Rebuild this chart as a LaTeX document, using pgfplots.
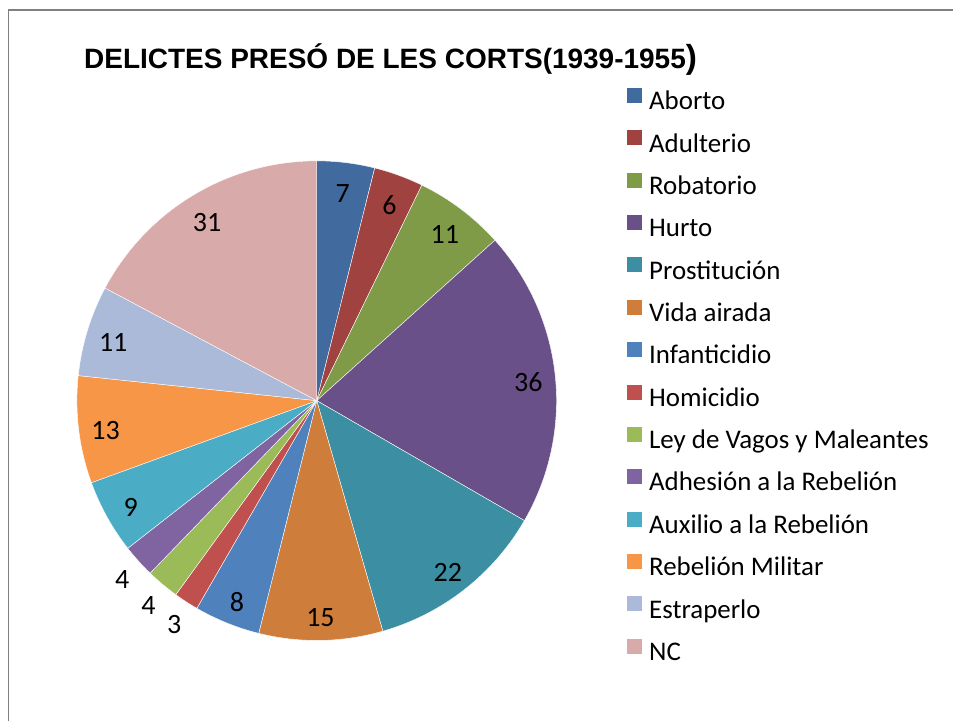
\documentclass[border=0pt]{standalone}
\usepackage{pgfplots}
\pgfplotsset{compat=1.18}
\usepackage{pgfplotstable}
\usepackage{fontspec}
\setmainfont{Carlito}
\newfontfamily\titlefont{Liberation Sans}

\definecolor{cA}{HTML}{416B9F}
\definecolor{cB}{HTML}{A04240}
\definecolor{cC}{HTML}{7F9B48}
\definecolor{cD}{HTML}{6A5088}
\definecolor{cE}{HTML}{3C8FA3}
\definecolor{cF}{HTML}{CE7D3A}
\definecolor{cG}{HTML}{4F81BD}
\definecolor{cH}{HTML}{C0504D}
\definecolor{cI}{HTML}{9BBB59}
\definecolor{cJ}{HTML}{8064A2}
\definecolor{cK}{HTML}{4BACC6}
\definecolor{cL}{HTML}{F79646}
\definecolor{cM}{HTML}{AABAD8}
\definecolor{cN}{HTML}{D9AAAA}

\def\lblfont{\fontsize{21}{25}\selectfont}
\def\legfont{\fontsize{20.2}{24}\selectfont}

% value, colour, label distance from centre (px)
\pgfplotstableread[col sep=comma]{
name,value,col,lr
Aborto,7,cA,213
Adulterio,6,cB,213
Robatorio,11,cC,213
Hurto,36,cD,213
Prostitución,22,cE,213
Vida airada,15,cF,213
Infanticidio,8,cG,213
Homicidio,3,cH,262
Ley de Vagos y Maleantes,4,cI,262
Adhesión a la Rebelión,4,cJ,262
Auxilio a la Rebelión,9,cK,213
Rebelión Militar,13,cL,213
Estraperlo,11,cM,213
NC,31,cN,213
}\pietable

\begin{document}
\begin{tikzpicture}
\begin{axis}[
  scale only axis,
  width=715.5pt, height=541.5pt,
  xmin=0, xmax=954, ymin=0, ymax=722,
  hide axis, clip=false,
  legend cell align=left,
  legend image code/.code={\fill[#1, draw=none] (0pt,0pt) rectangle (11.25pt,11.25pt);},
  legend style={
    at={(axis description cs:0.6583,0.8780)}, anchor=north west,
    draw=none, fill=none, inner sep=0pt, outer sep=0pt,
    font=\legfont,
    nodes={inner sep=0pt, text height=14pt, text depth=4pt},
    row sep=11.55pt,
    /tikz/every odd column/.append style={column sep=5pt},
  },
]
\path (axis cs:0,0) rectangle (axis cs:954,722);
% chart frame (cropped)
\draw[color=black!50, line width=1.2pt] (axis cs:8.5,0) -- (axis cs:8.5,712) -- (axis cs:954,712);
% title
\node[anchor=base west, inner sep=0pt, font={\titlefont\bfseries\fontsize{21}{25}\selectfont}]
  at (axis cs:84,653.7) {DELICTES PRESÓ DE LES CORTS(1939-1955{\fontsize{25}{25}\selectfont)}};

% total
\def\total{0}
\pgfplotsforeachungrouped \i in {0,...,13} {%
  \pgfplotstablegetelem{\i}{value}\of\pietable
  \pgfmathsetmacro\total{\total+\pgfplotsretval}%
}
\pgfmathsetmacro\degper{360/\total}%
\def\cum{0}
\pgfplotsforeachungrouped \i in {0,...,13} {%
  \pgfplotstablegetelem{\i}{value}\of\pietable \let\val=\pgfplotsretval
  \pgfplotstablegetelem{\i}{col}\of\pietable \let\col=\pgfplotsretval
  \pgfplotstablegetelem{\i}{name}\of\pietable \let\nm=\pgfplotsretval
  \pgfplotstablegetelem{\i}{lr}\of\pietable \let\lr=\pgfplotsretval
  \pgfmathsetmacro\aS{90-\degper*\cum}%
  \pgfmathsetmacro\aE{90-\degper*(\cum+\val)}%
  \pgfmathsetmacro\aM{(\aS+\aE)/2}%
  \pgfmathsetmacro\lx{317+\lr*cos(\aM)}%
  \pgfmathsetmacro\ly{317+\lr*sin(\aM)}%
  \edef\doplot{%
    \noexpand\addplot[fill=\col, draw=white, line width=0.3pt, domain=\aE:\aS, samples=60]
      ({317+240*cos(x)},{321+240*sin(x)}) -- (axis cs:317,321) -- cycle;
    \noexpand\addlegendentry{\nm}
    \noexpand\node[font=\noexpand\lblfont, inner sep=0pt] at (axis cs:\lx,\ly) {\val};
  }%
  \doplot
  \pgfmathsetmacro\cum{\cum+\val}%
}
\end{axis}
\end{tikzpicture}
\end{document}
